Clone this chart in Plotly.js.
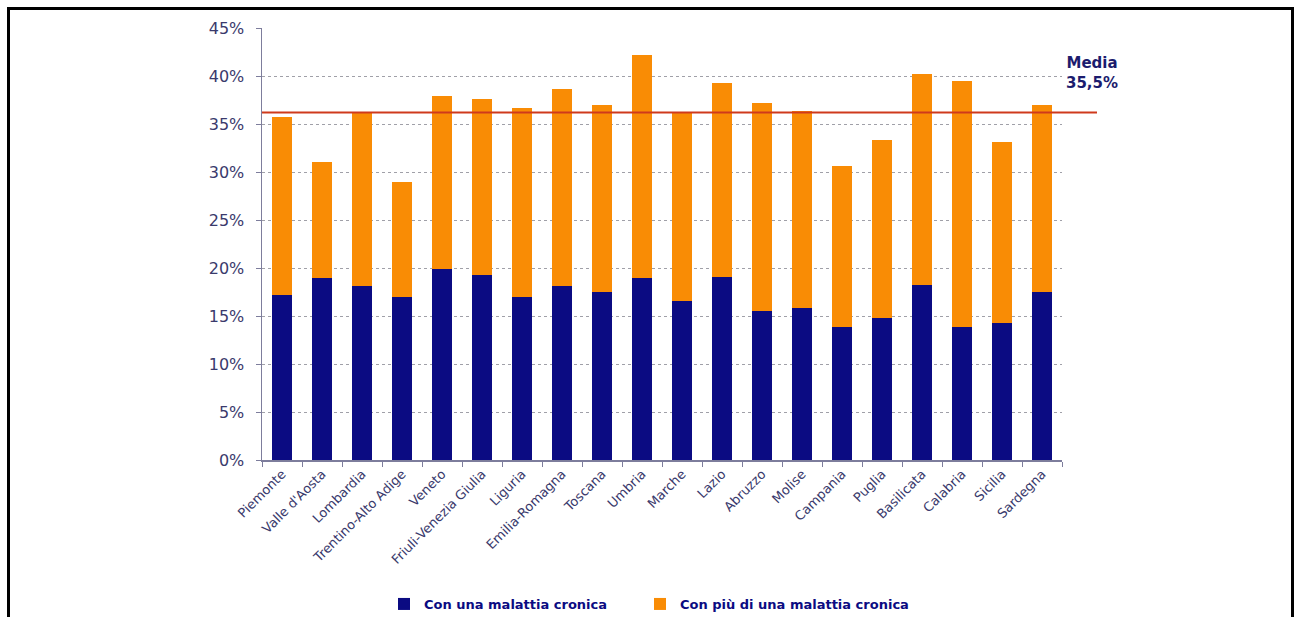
<!DOCTYPE html>
<html>
<head>
<meta charset="utf-8">
<script src="https://cdn.plot.ly/plotly-3.0.1.min.js"></script>
<style>
  html, body { margin: 0; padding: 0; background: #ffffff; }
  #wrap { position: relative; width: 1298px; height: 617px; overflow: hidden; }
  #chart { width: 1298px; height: 617px; }
  #frame { position: absolute; left: 7px; top: 7px; width: 1281px; height: 620px;
           border: 3px solid #000; border-bottom: none; pointer-events: none; }
</style>
</head>
<body>
<div id="wrap">
  <div id="chart"></div>
  <div id="frame"></div>
</div>
<script>
const regions = ["Piemonte", "Valle d'Aosta", "Lombardia", "Trentino-Alto Adige", "Veneto",
  "Friuli-Venezia Giulia", "Liguria", "Emilia-Romagna", "Toscana", "Umbria", "Marche",
  "Lazio", "Abruzzo", "Molise", "Campania", "Puglia", "Basilicata", "Calabria", "Sicilia", "Sardegna"];
const unaMalattia = [17.2, 19.0, 18.1, 17.0, 19.9, 19.3, 17.0, 18.1, 17.5, 19.0,
  16.6, 19.1, 15.5, 15.8, 13.9, 14.8, 18.2, 13.9, 14.3, 17.5];
const totale = [35.7, 31.0, 36.3, 29.0, 37.9, 37.6, 36.7, 38.6, 37.0, 42.2,
  36.2, 39.3, 37.2, 36.4, 30.6, 33.3, 40.2, 39.5, 33.1, 37.0];
const piuMalattie = totale.map((t, i) => +(t - unaMalattia[i]).toFixed(1));
const mediaLinea = 36.2;
const mediaLabel = "Media<br>35,5%";
const yTickVals = [0, 5, 10, 15, 20, 25, 30, 35, 40, 45];
const yTickText = ["0%", "5%", "10%", "15%", "20%", "25%", "30%", "35%", "40%", "45%"];

const navy = "#0b0b82";
const orange = "#f98c05";
const labelColor = "#3a3a6c";
const font = "DejaVu Sans, Verdana, sans-serif";
const legendFont = { family: font, size: 13, color: navy, weight: "bold" };

const traces = [
  { type: "bar", name: "Con una malattia cronica", x: regions, y: unaMalattia,
    marker: { color: navy }, xaxis: "x", yaxis: "y", hoverinfo: "none", legend: "legend" },
  { type: "bar", name: "Con più di una malattia cronica", x: regions, y: piuMalattie,
    marker: { color: orange }, xaxis: "x", yaxis: "y", hoverinfo: "none", legend: "legend2" },
  { type: "scatter", mode: "lines", x: [0, 1], y: [mediaLinea, mediaLinea],
    line: { color: "#cf3a1c", width: 2 }, xaxis: "x2", yaxis: "y2",
    showlegend: false, hoverinfo: "none" }
];

const layout = {
  width: 1298, height: 617,
  margin: { l: 262, r: 201, t: 27.5, b: 157, autoexpand: false },
  paper_bgcolor: "#ffffff", plot_bgcolor: "rgba(0,0,0,0)",
  barmode: "stack", bargap: 0.5,
  font: { family: font, color: labelColor },
  showlegend: true,
  legend: { orientation: "h", xref: "container", yref: "container",
    x: 384 / 1298, xanchor: "left", y: 13 / 617, yanchor: "middle", font: legendFont },
  legend2: { orientation: "h", xref: "container", yref: "container",
    x: 640 / 1298, xanchor: "left", y: 13 / 617, yanchor: "middle", font: legendFont },
  xaxis: {
    domain: [0, 800 / 835], anchor: "y", automargin: false,
    tickangle: -45, tickfont: { size: 13, color: labelColor, family: font },
    showline: true, linecolor: "#7d7d9c", linewidth: 1.5,
    ticks: "outside", tickson: "boundaries", ticklen: 5, tickcolor: "#7d7d9c",
    showgrid: false, fixedrange: true
  },
  yaxis: {
    range: [0, 45], tickvals: yTickVals, ticktext: yTickText, automargin: false,
    tickfont: { size: 16, color: labelColor, family: font },
    showline: true, linecolor: "#7d7d9c", linewidth: 1.5,
    ticks: "outside", ticklen: 5, tickcolor: "#7d7d9c", ticklabelstandoff: 8,
    showgrid: true, gridcolor: "#a0a0a8", griddash: "dot", gridwidth: 1,
    zeroline: false, fixedrange: true
  },
  xaxis2: { domain: [0, 1], range: [0, 1], anchor: "y2", visible: false, fixedrange: true },
  yaxis2: { domain: [0, 1], range: [0, 45], anchor: "x2", visible: false, fixedrange: true },
  annotations: [
    { xref: "x2", yref: "y2", x: 0.994, y: 40.3, text: mediaLabel, showarrow: false,
      xanchor: "center", yanchor: "middle", align: "center",
      font: { family: font, size: 15, color: "#1c1c6e", weight: "bold" } }
  ]
};

Plotly.newPlot("chart", traces, layout, { staticPlot: true, displayModeBar: false });
</script>
</body>
</html>
